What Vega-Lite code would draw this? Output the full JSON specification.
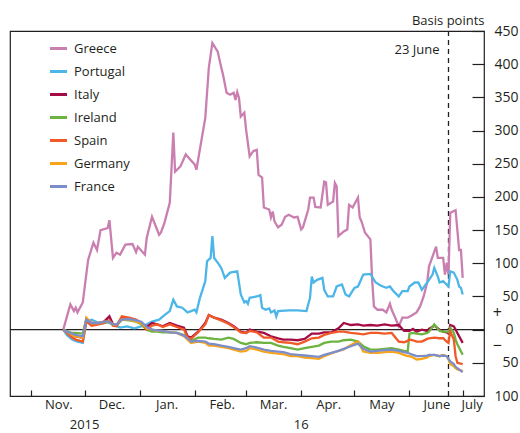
{
  "$schema": "https://vega.github.io/schema/vega-lite/v6.json",
  "width": 474,
  "height": 365,
  "autosize": {"type": "none"},
  "padding": {"left": 10, "top": 31, "right": 36, "bottom": 37},
  "config": {
    "font": "Open Sans",
    "view": {"stroke": "#231f20", "strokeWidth": 1.2},
    "axis": {"grid": false, "domain": false, "labelFont": "Open Sans", "labelFontSize": 13, "labelColor": "#231f20", "tickColor": "#231f20", "tickWidth": 1.2, "labelOverlap": false, "labelFlush": false, "labelBound": false},
    "axisY": {"labelFontSize": 14, "tickSize": -12, "labelAlign": "right", "labelBaseline": "middle"}
  },
  "datasets": {
    "gp": [
      {"country": "Greece", "date": "2015-11-19", "bp": 0},
      {"country": "Greece", "date": "2015-11-23", "bp": 38},
      {"country": "Greece", "date": "2015-11-25", "bp": 28},
      {"country": "Greece", "date": "2015-11-26", "bp": 33},
      {"country": "Greece", "date": "2015-11-27", "bp": 26},
      {"country": "Greece", "date": "2015-11-30", "bp": 41},
      {"country": "Greece", "date": "2015-12-03", "bp": 105},
      {"country": "Greece", "date": "2015-12-06", "bp": 131},
      {"country": "Greece", "date": "2015-12-08", "bp": 120},
      {"country": "Greece", "date": "2015-12-10", "bp": 150},
      {"country": "Greece", "date": "2015-12-14", "bp": 153},
      {"country": "Greece", "date": "2015-12-15", "bp": 165},
      {"country": "Greece", "date": "2015-12-17", "bp": 108},
      {"country": "Greece", "date": "2015-12-19", "bp": 116},
      {"country": "Greece", "date": "2015-12-21", "bp": 113},
      {"country": "Greece", "date": "2015-12-24", "bp": 128},
      {"country": "Greece", "date": "2015-12-28", "bp": 129},
      {"country": "Greece", "date": "2015-12-30", "bp": 117},
      {"country": "Greece", "date": "2015-12-31", "bp": 125},
      {"country": "Greece", "date": "2016-01-04", "bp": 113},
      {"country": "Greece", "date": "2016-01-05", "bp": 138},
      {"country": "Greece", "date": "2016-01-08", "bp": 170},
      {"country": "Greece", "date": "2016-01-12", "bp": 143},
      {"country": "Greece", "date": "2016-01-13", "bp": 146},
      {"country": "Greece", "date": "2016-01-15", "bp": 161},
      {"country": "Greece", "date": "2016-01-18", "bp": 191},
      {"country": "Greece", "date": "2016-01-20", "bp": 297},
      {"country": "Greece", "date": "2016-01-21", "bp": 238},
      {"country": "Greece", "date": "2016-01-24", "bp": 246},
      {"country": "Greece", "date": "2016-01-27", "bp": 264},
      {"country": "Greece", "date": "2016-01-30", "bp": 255},
      {"country": "Greece", "date": "2016-02-01", "bp": 249},
      {"country": "Greece", "date": "2016-02-02", "bp": 241},
      {"country": "Greece", "date": "2016-02-07", "bp": 319},
      {"country": "Greece", "date": "2016-02-09", "bp": 395},
      {"country": "Greece", "date": "2016-02-11", "bp": 432},
      {"country": "Greece", "date": "2016-02-14", "bp": 419},
      {"country": "Greece", "date": "2016-02-16", "bp": 395},
      {"country": "Greece", "date": "2016-02-17", "bp": 384},
      {"country": "Greece", "date": "2016-02-19", "bp": 357},
      {"country": "Greece", "date": "2016-02-21", "bp": 354},
      {"country": "Greece", "date": "2016-02-23", "bp": 357},
      {"country": "Greece", "date": "2016-02-24", "bp": 346},
      {"country": "Greece", "date": "2016-02-25", "bp": 358},
      {"country": "Greece", "date": "2016-02-26", "bp": 349},
      {"country": "Greece", "date": "2016-02-27", "bp": 321},
      {"country": "Greece", "date": "2016-02-29", "bp": 327},
      {"country": "Greece", "date": "2016-03-01", "bp": 301},
      {"country": "Greece", "date": "2016-03-03", "bp": 261},
      {"country": "Greece", "date": "2016-03-05", "bp": 269},
      {"country": "Greece", "date": "2016-03-07", "bp": 271},
      {"country": "Greece", "date": "2016-03-08", "bp": 233},
      {"country": "Greece", "date": "2016-03-10", "bp": 229},
      {"country": "Greece", "date": "2016-03-11", "bp": 184},
      {"country": "Greece", "date": "2016-03-14", "bp": 181},
      {"country": "Greece", "date": "2016-03-15", "bp": 169},
      {"country": "Greece", "date": "2016-03-16", "bp": 178},
      {"country": "Greece", "date": "2016-03-17", "bp": 163},
      {"country": "Greece", "date": "2016-03-19", "bp": 154},
      {"country": "Greece", "date": "2016-03-21", "bp": 158},
      {"country": "Greece", "date": "2016-03-23", "bp": 170},
      {"country": "Greece", "date": "2016-03-25", "bp": 173},
      {"country": "Greece", "date": "2016-03-28", "bp": 169},
      {"country": "Greece", "date": "2016-03-30", "bp": 170},
      {"country": "Greece", "date": "2016-04-01", "bp": 151},
      {"country": "Greece", "date": "2016-04-02", "bp": 154},
      {"country": "Greece", "date": "2016-04-05", "bp": 181},
      {"country": "Greece", "date": "2016-04-06", "bp": 199},
      {"country": "Greece", "date": "2016-04-08", "bp": 199},
      {"country": "Greece", "date": "2016-04-09", "bp": 185},
      {"country": "Greece", "date": "2016-04-12", "bp": 184},
      {"country": "Greece", "date": "2016-04-14", "bp": 223},
      {"country": "Greece", "date": "2016-04-15", "bp": 222},
      {"country": "Greece", "date": "2016-04-16", "bp": 188},
      {"country": "Greece", "date": "2016-04-19", "bp": 193},
      {"country": "Greece", "date": "2016-04-20", "bp": 221},
      {"country": "Greece", "date": "2016-04-21", "bp": 216},
      {"country": "Greece", "date": "2016-04-22", "bp": 141},
      {"country": "Greece", "date": "2016-04-25", "bp": 148},
      {"country": "Greece", "date": "2016-04-27", "bp": 151},
      {"country": "Greece", "date": "2016-04-28", "bp": 188},
      {"country": "Greece", "date": "2016-04-30", "bp": 184},
      {"country": "Greece", "date": "2016-05-03", "bp": 199},
      {"country": "Greece", "date": "2016-05-04", "bp": 169},
      {"country": "Greece", "date": "2016-05-05", "bp": 163},
      {"country": "Greece", "date": "2016-05-07", "bp": 146},
      {"country": "Greece", "date": "2016-05-10", "bp": 136},
      {"country": "Greece", "date": "2016-05-11", "bp": 75},
      {"country": "Greece", "date": "2016-05-12", "bp": 35},
      {"country": "Greece", "date": "2016-05-14", "bp": 30},
      {"country": "Greece", "date": "2016-05-17", "bp": 30},
      {"country": "Greece", "date": "2016-05-19", "bp": 26},
      {"country": "Greece", "date": "2016-05-21", "bp": 39},
      {"country": "Greece", "date": "2016-05-22", "bp": 30},
      {"country": "Greece", "date": "2016-05-24", "bp": 18},
      {"country": "Greece", "date": "2016-05-26", "bp": 5},
      {"country": "Greece", "date": "2016-05-28", "bp": 18},
      {"country": "Greece", "date": "2016-05-31", "bp": 18},
      {"country": "Greece", "date": "2016-06-02", "bp": 21},
      {"country": "Greece", "date": "2016-06-05", "bp": 26},
      {"country": "Greece", "date": "2016-06-07", "bp": 35},
      {"country": "Greece", "date": "2016-06-09", "bp": 50},
      {"country": "Greece", "date": "2016-06-11", "bp": 71},
      {"country": "Greece", "date": "2016-06-12", "bp": 95},
      {"country": "Greece", "date": "2016-06-14", "bp": 110},
      {"country": "Greece", "date": "2016-06-16", "bp": 125},
      {"country": "Greece", "date": "2016-06-17", "bp": 108},
      {"country": "Greece", "date": "2016-06-20", "bp": 108},
      {"country": "Greece", "date": "2016-06-21", "bp": 83},
      {"country": "Greece", "date": "2016-06-22", "bp": 101},
      {"country": "Greece", "date": "2016-06-23", "bp": 83},
      {"country": "Greece", "date": "2016-06-24", "bp": 176},
      {"country": "Greece", "date": "2016-06-27", "bp": 180},
      {"country": "Greece", "date": "2016-06-29", "bp": 120},
      {"country": "Greece", "date": "2016-06-30", "bp": 120},
      {"country": "Greece", "date": "2016-07-01", "bp": 78},
      {"country": "Portugal", "date": "2015-11-19", "bp": 0},
      {"country": "Portugal", "date": "2015-11-21", "bp": -8},
      {"country": "Portugal", "date": "2015-11-24", "bp": -15},
      {"country": "Portugal", "date": "2015-11-27", "bp": -18},
      {"country": "Portugal", "date": "2015-11-30", "bp": -20},
      {"country": "Portugal", "date": "2015-12-02", "bp": 12},
      {"country": "Portugal", "date": "2015-12-05", "bp": 15},
      {"country": "Portugal", "date": "2015-12-09", "bp": 10},
      {"country": "Portugal", "date": "2015-12-13", "bp": 12},
      {"country": "Portugal", "date": "2015-12-17", "bp": 8},
      {"country": "Portugal", "date": "2015-12-21", "bp": 3},
      {"country": "Portugal", "date": "2015-12-25", "bp": 5},
      {"country": "Portugal", "date": "2015-12-29", "bp": 2},
      {"country": "Portugal", "date": "2016-01-02", "bp": 5},
      {"country": "Portugal", "date": "2016-01-05", "bp": 8},
      {"country": "Portugal", "date": "2016-01-08", "bp": 12},
      {"country": "Portugal", "date": "2016-01-12", "bp": 15},
      {"country": "Portugal", "date": "2016-01-15", "bp": 22},
      {"country": "Portugal", "date": "2016-01-18", "bp": 28},
      {"country": "Portugal", "date": "2016-01-20", "bp": 45},
      {"country": "Portugal", "date": "2016-01-22", "bp": 35},
      {"country": "Portugal", "date": "2016-01-25", "bp": 33},
      {"country": "Portugal", "date": "2016-01-28", "bp": 26},
      {"country": "Portugal", "date": "2016-01-30", "bp": 28},
      {"country": "Portugal", "date": "2016-02-01", "bp": 30},
      {"country": "Portugal", "date": "2016-02-02", "bp": 26},
      {"country": "Portugal", "date": "2016-02-04", "bp": 48},
      {"country": "Portugal", "date": "2016-02-07", "bp": 73},
      {"country": "Portugal", "date": "2016-02-08", "bp": 103},
      {"country": "Portugal", "date": "2016-02-10", "bp": 108},
      {"country": "Portugal", "date": "2016-02-11", "bp": 141},
      {"country": "Portugal", "date": "2016-02-12", "bp": 108},
      {"country": "Portugal", "date": "2016-02-14", "bp": 101},
      {"country": "Portugal", "date": "2016-02-16", "bp": 93},
      {"country": "Portugal", "date": "2016-02-18", "bp": 78},
      {"country": "Portugal", "date": "2016-02-21", "bp": 86},
      {"country": "Portugal", "date": "2016-02-25", "bp": 88},
      {"country": "Portugal", "date": "2016-02-27", "bp": 53},
      {"country": "Portugal", "date": "2016-02-29", "bp": 41},
      {"country": "Portugal", "date": "2016-03-01", "bp": 43},
      {"country": "Portugal", "date": "2016-03-02", "bp": 39},
      {"country": "Portugal", "date": "2016-03-03", "bp": 48},
      {"country": "Portugal", "date": "2016-03-07", "bp": 50},
      {"country": "Portugal", "date": "2016-03-09", "bp": 52},
      {"country": "Portugal", "date": "2016-03-10", "bp": 33},
      {"country": "Portugal", "date": "2016-03-12", "bp": 30},
      {"country": "Portugal", "date": "2016-03-14", "bp": 32},
      {"country": "Portugal", "date": "2016-03-15", "bp": 26},
      {"country": "Portugal", "date": "2016-03-17", "bp": 29},
      {"country": "Portugal", "date": "2016-03-18", "bp": 20},
      {"country": "Portugal", "date": "2016-03-19", "bp": 28},
      {"country": "Portugal", "date": "2016-03-25", "bp": 29},
      {"country": "Portugal", "date": "2016-03-30", "bp": 29},
      {"country": "Portugal", "date": "2016-04-04", "bp": 28},
      {"country": "Portugal", "date": "2016-04-06", "bp": 48},
      {"country": "Portugal", "date": "2016-04-07", "bp": 80},
      {"country": "Portugal", "date": "2016-04-08", "bp": 71},
      {"country": "Portugal", "date": "2016-04-10", "bp": 75},
      {"country": "Portugal", "date": "2016-04-13", "bp": 78},
      {"country": "Portugal", "date": "2016-04-14", "bp": 60},
      {"country": "Portugal", "date": "2016-04-16", "bp": 50},
      {"country": "Portugal", "date": "2016-04-19", "bp": 50},
      {"country": "Portugal", "date": "2016-04-21", "bp": 65},
      {"country": "Portugal", "date": "2016-04-24", "bp": 68},
      {"country": "Portugal", "date": "2016-04-26", "bp": 53},
      {"country": "Portugal", "date": "2016-04-28", "bp": 50},
      {"country": "Portugal", "date": "2016-05-01", "bp": 63},
      {"country": "Portugal", "date": "2016-05-03", "bp": 65},
      {"country": "Portugal", "date": "2016-05-06", "bp": 83},
      {"country": "Portugal", "date": "2016-05-10", "bp": 84},
      {"country": "Portugal", "date": "2016-05-13", "bp": 71},
      {"country": "Portugal", "date": "2016-05-16", "bp": 66},
      {"country": "Portugal", "date": "2016-05-19", "bp": 63},
      {"country": "Portugal", "date": "2016-05-21", "bp": 65},
      {"country": "Portugal", "date": "2016-05-23", "bp": 58},
      {"country": "Portugal", "date": "2016-05-26", "bp": 50},
      {"country": "Portugal", "date": "2016-05-28", "bp": 58},
      {"country": "Portugal", "date": "2016-05-31", "bp": 58},
      {"country": "Portugal", "date": "2016-06-01", "bp": 65},
      {"country": "Portugal", "date": "2016-06-04", "bp": 71},
      {"country": "Portugal", "date": "2016-06-06", "bp": 71},
      {"country": "Portugal", "date": "2016-06-08", "bp": 60},
      {"country": "Portugal", "date": "2016-06-11", "bp": 71},
      {"country": "Portugal", "date": "2016-06-14", "bp": 83},
      {"country": "Portugal", "date": "2016-06-15", "bp": 93},
      {"country": "Portugal", "date": "2016-06-17", "bp": 80},
      {"country": "Portugal", "date": "2016-06-18", "bp": 71},
      {"country": "Portugal", "date": "2016-06-20", "bp": 73},
      {"country": "Portugal", "date": "2016-06-23", "bp": 65},
      {"country": "Portugal", "date": "2016-06-24", "bp": 88},
      {"country": "Portugal", "date": "2016-06-26", "bp": 86},
      {"country": "Portugal", "date": "2016-06-28", "bp": 75},
      {"country": "Portugal", "date": "2016-06-29", "bp": 65},
      {"country": "Portugal", "date": "2016-06-30", "bp": 63},
      {"country": "Portugal", "date": "2016-07-01", "bp": 53}
    ],
    "others": [
      {"date": "2015-11-19", "Italy": 0, "Ireland": 0, "Spain": 0, "Germany": 0, "France": 0},
      {"date": "2015-11-21", "Italy": -3, "Ireland": -2, "Spain": -5, "Germany": -3, "France": -3},
      {"date": "2015-11-24", "Italy": -8, "Ireland": -5, "Spain": -12, "Germany": -8, "France": -6},
      {"date": "2015-11-26", "Italy": -10, "Ireland": -5, "Spain": -15, "Germany": -10, "France": -8},
      {"date": "2015-11-30", "Italy": -12, "Ireland": -6, "Spain": -18, "Germany": -12, "France": -10},
      {"date": "2015-12-02", "Italy": 15, "Ireland": 16, "Spain": 12, "Germany": 18, "France": 15},
      {"date": "2015-12-05", "Italy": 8, "Ireland": 8, "Spain": 6, "Germany": 10, "France": 10},
      {"date": "2015-12-09", "Italy": 10, "Ireland": 9, "Spain": 8, "Germany": 10, "France": 10},
      {"date": "2015-12-12", "Italy": 12, "Ireland": 10, "Spain": 10, "Germany": 12, "France": 12},
      {"date": "2015-12-15", "Italy": 20, "Ireland": 12, "Spain": 14, "Germany": 12, "France": 12},
      {"date": "2015-12-17", "Italy": 8, "Ireland": 7, "Spain": 6, "Germany": 8, "France": 8},
      {"date": "2015-12-19", "Italy": 6, "Ireland": 6, "Spain": 5, "Germany": 8, "France": 8},
      {"date": "2015-12-22", "Italy": 18, "Ireland": 15, "Spain": 20, "Germany": 15, "France": 15},
      {"date": "2015-12-26", "Italy": 16, "Ireland": 14, "Spain": 18, "Germany": 15, "France": 16},
      {"date": "2015-12-30", "Italy": 14, "Ireland": 12, "Spain": 15, "Germany": 12, "France": 14},
      {"date": "2016-01-02", "Italy": 10, "Ireland": 8, "Spain": 10, "Germany": 10, "France": 12},
      {"date": "2016-01-05", "Italy": 4, "Ireland": 0, "Spain": 0, "Germany": 2, "France": 4},
      {"date": "2016-01-08", "Italy": 10, "Ireland": -3, "Spain": 6, "Germany": 0, "France": 0},
      {"date": "2016-01-11", "Italy": 8, "Ireland": -3, "Spain": 8, "Germany": -2, "France": -1},
      {"date": "2016-01-14", "Italy": 5, "Ireland": -4, "Spain": 4, "Germany": -2, "France": -2},
      {"date": "2016-01-18", "Italy": 10, "Ireland": -4, "Spain": 8, "Germany": -4, "France": -4},
      {"date": "2016-01-22", "Italy": 6, "Ireland": -5, "Spain": 4, "Germany": -5, "France": -5},
      {"date": "2016-01-26", "Italy": 3, "Ireland": -8, "Spain": 0, "Germany": -10, "France": -9},
      {"date": "2016-01-28", "Italy": -10, "Ireland": -12, "Spain": -12, "Germany": -15, "France": -13},
      {"date": "2016-01-30", "Italy": -12, "Ireland": -17, "Spain": -14, "Germany": -20, "France": -18},
      {"date": "2016-02-03", "Italy": -3, "Ireland": -12, "Spain": -4, "Germany": -18, "France": -17},
      {"date": "2016-02-07", "Italy": 10, "Ireland": -12, "Spain": 8, "Germany": -20, "France": -18},
      {"date": "2016-02-09", "Italy": 22, "Ireland": -13, "Spain": 22, "Germany": -24, "France": -21},
      {"date": "2016-02-12", "Italy": 18, "Ireland": -14, "Spain": 18, "Germany": -24, "France": -22},
      {"date": "2016-02-16", "Italy": 15, "Ireland": -15, "Spain": 14, "Germany": -26, "France": -24},
      {"date": "2016-02-20", "Italy": 10, "Ireland": -12, "Spain": 9, "Germany": -28, "France": -26},
      {"date": "2016-02-23", "Italy": 5, "Ireland": -14, "Spain": 4, "Germany": -30, "France": -28},
      {"date": "2016-02-27", "Italy": -3, "Ireland": -20, "Spain": -4, "Germany": -33, "France": -30},
      {"date": "2016-03-01", "Italy": -5, "Ireland": -22, "Spain": -5, "Germany": -32, "France": -28},
      {"date": "2016-03-03", "Italy": 0, "Ireland": -20, "Spain": -2, "Germany": -28, "France": -25},
      {"date": "2016-03-07", "Italy": -3, "Ireland": -19, "Spain": -4, "Germany": -30, "France": -27},
      {"date": "2016-03-11", "Italy": -5, "Ireland": -20, "Spain": -12, "Germany": -33, "France": -30},
      {"date": "2016-03-15", "Italy": -10, "Ireland": -20, "Spain": -12, "Germany": -35, "France": -32},
      {"date": "2016-03-19", "Italy": -13, "Ireland": -24, "Spain": -18, "Germany": -36, "France": -33},
      {"date": "2016-03-22", "Italy": -15, "Ireland": -26, "Spain": -19, "Germany": -37, "France": -34},
      {"date": "2016-03-26", "Italy": -15, "Ireland": -28, "Spain": -20, "Germany": -40, "France": -37},
      {"date": "2016-03-30", "Italy": -16, "Ireland": -30, "Spain": -22, "Germany": -40, "France": -38},
      {"date": "2016-04-03", "Italy": -14, "Ireland": -28, "Spain": -18, "Germany": -42, "France": -39},
      {"date": "2016-04-07", "Italy": -6, "Ireland": -26, "Spain": -13, "Germany": -43, "France": -40},
      {"date": "2016-04-11", "Italy": -6, "Ireland": -24, "Spain": -12, "Germany": -44, "France": -41},
      {"date": "2016-04-14", "Italy": -4, "Ireland": -20, "Spain": -8, "Germany": -40, "France": -38},
      {"date": "2016-04-18", "Italy": -4, "Ireland": -18, "Spain": -5, "Germany": -36, "France": -35},
      {"date": "2016-04-22", "Italy": 2, "Ireland": -18, "Spain": -3, "Germany": -32, "France": -32},
      {"date": "2016-04-25", "Italy": 10, "Ireland": -16, "Spain": -3, "Germany": -30, "France": -29},
      {"date": "2016-04-29", "Italy": 7, "Ireland": -15, "Spain": -5, "Germany": -23, "France": -25},
      {"date": "2016-05-03", "Italy": 8, "Ireland": -18, "Spain": -6, "Germany": -18, "France": -21},
      {"date": "2016-05-06", "Italy": 6, "Ireland": -25, "Spain": -7, "Germany": -33, "France": -29},
      {"date": "2016-05-10", "Italy": 7, "Ireland": -30, "Spain": -5, "Germany": -35, "France": -33},
      {"date": "2016-05-14", "Italy": 6, "Ireland": -30, "Spain": -5, "Germany": -35, "France": -32},
      {"date": "2016-05-18", "Italy": 8, "Ireland": -29, "Spain": -6, "Germany": -34, "France": -31},
      {"date": "2016-05-22", "Italy": 6, "Ireland": -28, "Spain": -5, "Germany": -33, "France": -30},
      {"date": "2016-05-26", "Italy": 7, "Ireland": -30, "Spain": -18, "Germany": -35, "France": -32},
      {"date": "2016-05-29", "Italy": -2, "Ireland": -32, "Spain": -19, "Germany": -38, "France": -34},
      {"date": "2016-05-31", "Italy": -2, "Ireland": -33, "Spain": -17, "Germany": -40, "France": -35},
      {"date": "2016-06-01", "Italy": -2, "Ireland": -6, "Spain": -15, "Germany": -40, "France": -36},
      {"date": "2016-06-03", "Italy": 1, "Ireland": -5, "Spain": -16, "Germany": -42, "France": -38},
      {"date": "2016-06-05", "Italy": -3, "Ireland": -6, "Spain": -18, "Germany": -45, "France": -40},
      {"date": "2016-06-08", "Italy": 0, "Ireland": -7, "Spain": -18, "Germany": -44, "France": -40},
      {"date": "2016-06-11", "Italy": -2, "Ireland": -5, "Spain": -14, "Germany": -42, "France": -39},
      {"date": "2016-06-12", "Italy": 1, "Ireland": -3, "Spain": -13, "Germany": -40, "France": -38},
      {"date": "2016-06-15", "Italy": 6, "Ireland": 8, "Spain": -12, "Germany": -38, "France": -38},
      {"date": "2016-06-18", "Italy": 0, "Ireland": -2, "Spain": -13, "Germany": -40, "France": -40},
      {"date": "2016-06-20", "Italy": -3, "Ireland": -3, "Spain": -13, "Germany": -38, "France": -39},
      {"date": "2016-06-22", "Italy": -4, "Ireland": -3, "Spain": -18, "Germany": -40, "France": -40},
      {"date": "2016-06-23", "Italy": -6, "Ireland": -4, "Spain": -20, "Germany": -45, "France": -44},
      {"date": "2016-06-24", "Italy": 7, "Ireland": 3, "Spain": -3, "Germany": -52, "France": -48},
      {"date": "2016-06-26", "Italy": 5, "Ireland": -5, "Spain": -15, "Germany": -55, "France": -52},
      {"date": "2016-06-27", "Italy": 0, "Ireland": -15, "Spain": -40, "Germany": -58, "France": -56},
      {"date": "2016-06-28", "Italy": -5, "Ireland": -22, "Spain": -50, "Germany": -60, "France": -58},
      {"date": "2016-07-01", "Italy": -20, "Ireland": -38, "Spain": -52, "Germany": -62, "France": -64}
    ],
    "event": [{"date": "2016-06-23", "label": "23 June"}],
    "years": [{"date": "2015-12-01", "year": "2015"}, {"date": "2016-04-01", "year": "16"}]
  },
  "layer": [
    {
      "data": {"values": [{"z": 0}]},
      "mark": {"type": "rule", "color": "#231f20", "strokeWidth": 1.3},
      "encoding": {
        "y": {
          "datum": 0,
          "type": "quantitative",
          "scale": {"domain": [-100, 450]},
          "axis": {
            "orient": "right",
            "values": [-100, -50, 0, 50, 100, 150, 200, 250, 300, 350, 400, 450],
            "tickCount": 30,
            "labelExpr": "format(abs(datum.value), 'd')",
            "labelOverlap": false,
            "labelPadding": {"condition": {"test": "datum.value == 0", "value": 41}, "value": 46},
            "title": "Basis points",
            "titleAngle": 0,
            "titleX": 0,
            "titleY": -7,
            "titleAlign": "right",
            "titleBaseline": "alphabetic",
            "titleFont": "Open Sans",
            "titleFontSize": 13,
            "titleFontWeight": "normal",
            "titleColor": "#231f20"
          }
        }
      }
    },
    {
      "data": {"name": "event"},
      "mark": {"type": "rule", "color": "#231f20", "strokeWidth": 1.3, "strokeDash": [5, 4]},
      "encoding": {
        "x": {
          "field": "date",
          "type": "temporal",
          "scale": {"type": "utc", "domain": [{"year": 2015, "month": 10, "date": 20, "utc": true}, {"year": 2016, "month": 7, "date": 13, "utc": true}]},
          "axis": {
            "values": [
              {"year": 2015, "month": 11, "date": 1, "utc": true},
              {"year": 2015, "month": 12, "date": 1, "utc": true},
              {"year": 2016, "month": 1, "date": 1, "utc": true},
              {"year": 2016, "month": 2, "date": 1, "utc": true},
              {"year": 2016, "month": 3, "date": 1, "utc": true},
              {"year": 2016, "month": 4, "date": 1, "utc": true},
              {"year": 2016, "month": 5, "date": 1, "utc": true},
              {"year": 2016, "month": 6, "date": 1, "utc": true},
              {"year": 2016, "month": 7, "date": 1, "utc": true}
            ],
            "tickCount": 30,
            "labelExpr": "['Jan.','Feb.','Mar.','Apr.','May','June','July','Aug.','Sep.','Oct.','Nov.','Dec.'][utcmonth(datum.value)]",
            "tickSize": -6,
            "labelOffset": {"condition": {"test": "utcmonth(datum.value) == 6", "value": 9}, "value": 27},
            "labelPadding": 8,
            "labelAlign": "center",
            "labelOverlap": false,
            "labelFlush": false,
            "title": null
          }
        }
      }
    },
    {
      "data": {"name": "gp"},
      "mark": {"type": "line", "strokeWidth": 2.3},
      "encoding": {
        "x": {"field": "date", "type": "temporal", "scale": {"type": "utc", "domain": [{"year": 2015, "month": 10, "date": 20, "utc": true}, {"year": 2016, "month": 7, "date": 13, "utc": true}]}},
        "y": {"field": "bp", "type": "quantitative", "title": "Basis points", "axis": {"orient": "right"}},
        "color": {
          "field": "country",
          "type": "nominal",
          "scale": {
            "domain": ["Greece", "Portugal", "Italy", "Ireland", "Spain", "Germany", "France"],
            "range": ["#c97fb0", "#4db6e8", "#a50b45", "#6cb33f", "#f15a27", "#f9a51b", "#7c8ec9"]
          },
          "legend": {
            "orient": "none",
            "legendX": 38,
            "legendY": 7,
            "title": null,
            "padding": 0,
            "symbolType": "stroke",
            "symbolSize": 290,
            "symbolStrokeWidth": 3,
            "labelFont": "Open Sans",
            "labelFontSize": 13,
            "labelColor": "#231f20",
            "labelOffset": 5,
            "rowPadding": 5
          }
        }
      }
    },
    {
      "data": {"name": "others"},
      "transform": [{"fold": ["Italy", "Ireland", "Spain", "Germany", "France"], "as": ["country", "bp"]}],
      "mark": {"type": "line", "strokeWidth": 2.3},
      "encoding": {
        "x": {"field": "date", "type": "temporal", "scale": {"type": "utc", "domain": [{"year": 2015, "month": 10, "date": 20, "utc": true}, {"year": 2016, "month": 7, "date": 13, "utc": true}]}},
        "y": {"field": "bp", "type": "quantitative", "title": "Basis points", "axis": {"orient": "right"}},
        "color": {"field": "country", "type": "nominal"}
      }
    },
    {
      "data": {"name": "event"},
      "mark": {"type": "text", "align": "right", "baseline": "middle", "dx": -9, "fontSize": 13, "font": "Open Sans", "color": "#231f20"},
      "encoding": {
        "x": {"field": "date", "type": "temporal"},
        "y": {"datum": 422, "axis": {"orient": "right"}},
        "text": {"field": "label"}
      }
    },
    {
      "data": {"values": [{"s": "+"}]},
      "mark": {"type": "text", "align": "right", "baseline": "middle", "dx": 18, "fontSize": 16, "font": "Open Sans", "color": "#231f20"},
      "encoding": {
        "x": {"datum": {"year": 2016, "month": 7, "date": 13, "utc": true}, "type": "temporal"},
        "y": {"datum": 25, "axis": {"orient": "right"}},
        "text": {"field": "s"}
      }
    },
    {
      "data": {"values": [{"s": "\u2212"}]},
      "mark": {"type": "text", "align": "right", "baseline": "middle", "dx": 18, "fontSize": 16, "font": "Open Sans", "color": "#231f20"},
      "encoding": {
        "x": {"datum": {"year": 2016, "month": 7, "date": 13, "utc": true}, "type": "temporal"},
        "y": {"datum": -25, "axis": {"orient": "right"}},
        "text": {"field": "s"}
      }
    },
    {
      "data": {"name": "years"},
      "mark": {"type": "text", "align": "center", "baseline": "top", "dy": 23, "fontSize": 13, "font": "Open Sans", "color": "#231f20"},
      "encoding": {
        "x": {"field": "date", "type": "temporal"},
        "y": {"datum": -100, "axis": {"orient": "right"}},
        "text": {"field": "year"}
      }
    }
  ]
}
